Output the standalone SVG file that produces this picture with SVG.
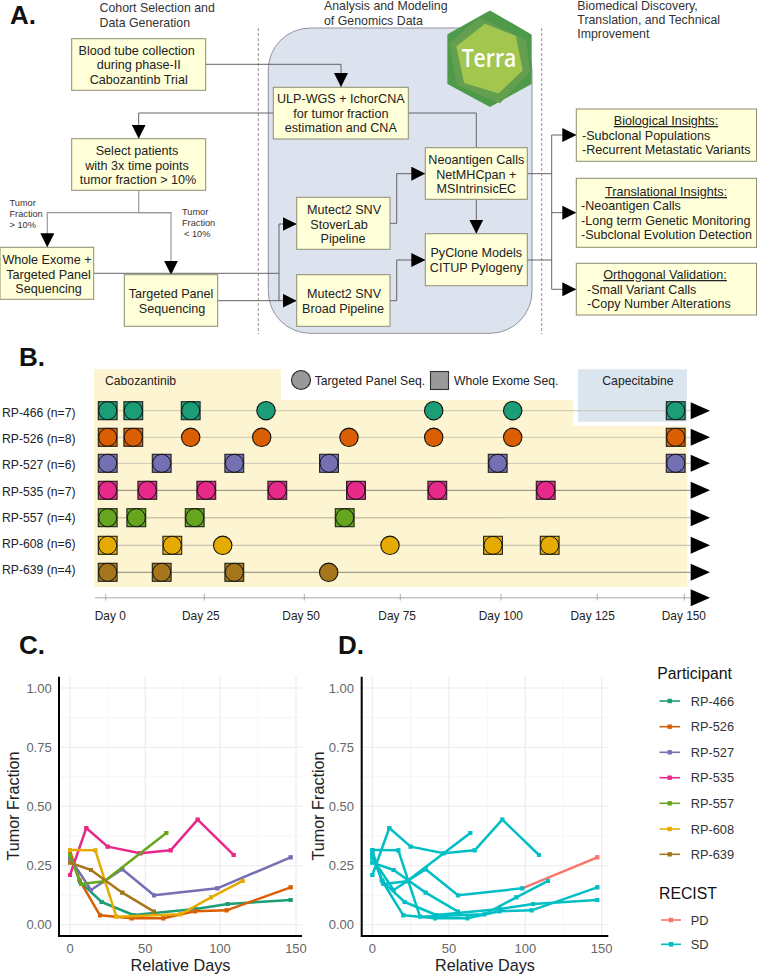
<svg xmlns="http://www.w3.org/2000/svg" width="757" height="975" viewBox="0 0 757 975">
<style>
text{font-family:"Liberation Sans",Arial,sans-serif;fill:#222}
.h{font-size:12.35px;fill:#333}
.big{font-size:26px;font-weight:bold;fill:#111}
.box{fill:#ffffd9;stroke:#8c8c70;stroke-width:1}
.t{font-size:12.6px;text-anchor:middle}
.u{text-decoration:underline}
.l{font-size:12.55px}
.sm{font-size:9.2px;fill:#333}
.c{fill:none;stroke:#555;stroke-width:.9}
.g{fill:none;stroke:#999;stroke-width:1.2}
.rl{fill:none;stroke-width:1}
.b{font-size:12.2px}
.d{font-size:11.9px}
.e{fill:#1b9e77}.f{fill:#d95f02}.p{fill:#7570b3}.m{fill:#e7298a}.n{fill:#66a61e}.y{fill:#e6ab02}.w{fill:#a6761d}
.grid{stroke:#ebebf0;stroke-width:1.1;fill:none}
.minor{stroke:#f2f2f5;stroke-width:.7;fill:none}
.axis{stroke:#000;stroke-width:2;fill:none}
.tick{font-size:13px;fill:#666}
.ax{font-size:16.2px;fill:#222}
.s{fill:none;stroke-width:7.5;stroke-linejoin:round}
.leg{font-size:12.8px;fill:#333}
.legt{font-size:15.8px;fill:#111}
</style>
<defs>
<marker id="arr" markerUnits="userSpaceOnUse" markerWidth="14" markerHeight="14" refX="14" refY="7" orient="auto"><path d="M0 0L14 7L0 14Z" fill="#000"/></marker>
<g id="sq"><rect x="-9.4" y="-9" width="18.8" height="18" stroke="#222" stroke-width="1.1"/><circle r="9" stroke="#111" stroke-width="1"/></g>
<circle id="ci" r="9.2" stroke="#111" stroke-width="1.1"/>
<path id="end" d="M0 -8.5L19.3 0L0 8.5Z" fill="#000"/>
<marker id="q0" markerUnits="userSpaceOnUse" markerWidth="14" markerHeight="14" refX="7" refY="7"><rect x=".5" y=".5" width="13" height="13" fill="#1b9e77"/></marker>
<marker id="q1" markerUnits="userSpaceOnUse" markerWidth="14" markerHeight="14" refX="7" refY="7"><rect x=".5" y=".5" width="13" height="13" fill="#d95f02"/></marker>
<marker id="q2" markerUnits="userSpaceOnUse" markerWidth="14" markerHeight="14" refX="7" refY="7"><rect x=".5" y=".5" width="13" height="13" fill="#7570b3"/></marker>
<marker id="q3" markerUnits="userSpaceOnUse" markerWidth="14" markerHeight="14" refX="7" refY="7"><rect x=".5" y=".5" width="13" height="13" fill="#e7298a"/></marker>
<marker id="q4" markerUnits="userSpaceOnUse" markerWidth="14" markerHeight="14" refX="7" refY="7"><rect x=".5" y=".5" width="13" height="13" fill="#66a61e"/></marker>
<marker id="q5" markerUnits="userSpaceOnUse" markerWidth="14" markerHeight="14" refX="7" refY="7"><rect x=".5" y=".5" width="13" height="13" fill="#e6ab02"/></marker>
<marker id="q6" markerUnits="userSpaceOnUse" markerWidth="14" markerHeight="14" refX="7" refY="7"><rect x=".5" y=".5" width="13" height="13" fill="#a6761d"/></marker>
<marker id="qs" markerUnits="userSpaceOnUse" markerWidth="14" markerHeight="14" refX="7" refY="7"><rect x=".5" y=".5" width="13" height="13" fill="#00bfc4"/></marker>
<marker id="qp" markerUnits="userSpaceOnUse" markerWidth="14" markerHeight="14" refX="7" refY="7"><rect x=".5" y=".5" width="13" height="13" fill="#f8766d"/></marker>
</defs>
<rect width="757" height="975" fill="#fff"/>

<!-- Panel A -->
<text class="big" x="10" y="23.5">A.</text>
<text class="h" x="99.5" y="12">Cohort Selection and</text>
<text class="h" x="99.5" y="27">Data Generation</text>
<text class="h" x="324" y="10">Analysis and Modeling</text>
<text class="h" x="324" y="25">of Genomics Data</text>
<text class="h" x="577.3" y="9.5">Biomedical Discovery,</text>
<text class="h" x="577.3" y="23.5">Translation, and Technical</text>
<text class="h" x="577.3" y="38">Improvement</text>
<rect x="268.3" y="28" width="263.7" height="305.3" rx="42" ry="42" fill="#dde3ee" stroke="#8f939c" stroke-width="1"/>
<path d="M258.3 28V334M541.7 28V334" fill="none" stroke="#777" stroke-width=".8" stroke-dasharray="3 2"/>
<g id="terra" transform="translate(440 5) scale(.3333)">
<path d="M150 20L272 90V235L150 303L25 235V90Z" fill="#4f9a4a" stroke="#4f9a4a" stroke-width="6" stroke-linejoin="round"/>
<path d="M118 38L258 105L270 200L180 295L50 240L28 115Z" fill="#649f50"/>
<path d="M135 60L225 95L245 195L175 262L75 232L52 125Z" fill="#a3c64e" stroke="#a3c64e" stroke-width="6" stroke-linejoin="round"/>
<text x="147" y="186" font-size="78" font-weight="600" text-anchor="middle" style="fill:#fff;font-family:'Open Sans',sans-serif" textLength="164" lengthAdjust="spacingAndGlyphs">Terra</text>
</g>
<g id="connectors">
<path class="c" d="M205.7 64.3H341V87" marker-end="url(#arr)"/>
<path class="c" d="M273.3 113H138.7V138.7" marker-end="url(#arr)"/>
<path class="g" d="M138.7 190.3V212.7"/>
<path class="g" d="M171 212.7H47.3V247.3" marker-end="url(#arr)"/>
<path class="g" d="M138.7 212.7H171V274.7" marker-end="url(#arr)"/>
<path class="c" d="M93.7 273.3H279V224H296.7" marker-end="url(#arr)"/>
<path class="c" d="M217.7 300.7H296.7" marker-end="url(#arr)"/>
<path class="c" d="M279 273.3V300.7"/>
<path class="c" d="M390 223.3H396.7V173.7H425.3" marker-end="url(#arr)"/>
<path class="c" d="M390 300.7H396.7V260H425.3" marker-end="url(#arr)"/>
<path class="c" d="M408.3 113H476.3V147.7"/>
<path class="c" d="M476.3 199.3V233.7" marker-end="url(#arr)"/>
<path class="c" d="M527.3 173.7H551.7"/>
<path class="c" d="M527.3 260H551.7"/>
<path class="c" d="M551.7 135V289.3"/>
<path class="c" d="M551.7 135H576.3" marker-end="url(#arr)"/>
<path class="c" d="M551.7 212.7H576.3" marker-end="url(#arr)"/>
<path class="c" d="M551.7 289.3H576.3" marker-end="url(#arr)"/>
</g>
<g id="blood"><rect class="box" x="71.7" y="38.7" width="134" height="51.6"/><text class="t" x="136.7" y="54.5">Blood tube collection</text><text class="t" x="138.7" y="69">during phase-II</text><text class="t" x="138.7" y="83.5">Cabozantinb Trial</text></g>
<g id="ulp"><rect class="box" x="273.3" y="87.3" width="135" height="51.7"/><text class="t" x="340.8" y="103">ULP-WGS + IchorCNA</text><text class="t" x="340.8" y="118">for tumor fraction</text><text class="t" x="340.8" y="132">estimation and CNA</text></g>
<g id="select"><rect class="box" x="71.7" y="138.7" width="134" height="51.6"/><text class="t" x="137" y="155">Select patients</text><text class="t" x="137" y="169.5">with 3x time points</text><text class="t" x="138" y="183.5">tumor fraction &gt; 10%</text></g>
<g id="wes"><rect class="box" x="0" y="247.3" width="93.7" height="52"/><text class="t" x="47" y="264">Whole Exome +</text><text class="t" x="48.5" y="278.5">Targeted Panel</text><text class="t" x="48.5" y="292.5">Sequencing</text></g>
<g id="tps"><rect class="box" x="124.3" y="274.7" width="93.4" height="51.6"/><text class="t" x="171" y="298">Targeted Panel</text><text class="t" x="172" y="312.5">Sequencing</text></g>
<g id="stover"><rect class="box" x="296.7" y="197.3" width="93.3" height="52"/><text class="t" x="344" y="214">Mutect2 SNV</text><text class="t" x="339" y="228.5">StoverLab</text><text class="t" x="343" y="242.5">Pipeline</text></g>
<g id="broad"><rect class="box" x="296.7" y="274.7" width="93.3" height="51.6"/><text class="t" x="344" y="298">Mutect2 SNV</text><text class="t" x="343" y="312.5">Broad Pipeline</text></g>
<g id="neo"><rect class="box" x="425.3" y="147.7" width="102" height="51.6"/><text class="t" x="476.3" y="164">Neoantigen Calls</text><text class="t" x="476.3" y="178.5">NetMHCpan +</text><text class="t" x="476.3" y="192.5">MSIntrinsicEC</text></g>
<g id="pyclone"><rect class="box" x="425.3" y="233.7" width="102" height="52"/><text class="t" x="476.3" y="257">PyClone Models</text><text class="t" x="476.3" y="272">CITUP Pylogeny</text></g>
<g id="bio"><rect class="box" x="576.3" y="109" width="180.2" height="52.3"/><text class="t u" x="666" y="125">Biological Insights:</text><text class="l" x="582" y="139.5">-Subclonal Populations</text><text class="l" x="582" y="154">-Recurrent Metastatic Variants</text></g>
<g id="trans"><rect class="box" x="576.3" y="178.3" width="180.2" height="69"/><text class="t u" x="666" y="196">Translational Insights:</text><text class="l" x="581" y="210">-Neoantigen Calls</text><text class="l" x="581" y="225">-Long term Genetic Monitoring</text><text class="l" x="581" y="239">-Subclonal Evolution Detection</text></g>
<g id="ortho"><rect class="box" x="576.3" y="263.3" width="180.2" height="51.7"/><text class="t u" x="665" y="279">Orthogonal Validation: </text><text class="l" x="587" y="294">-Small Variant Calls</text><text class="l" x="587" y="308">-Copy Number Alterations</text></g>
<text class="sm" x="9.5" y="206">Tumor</text><text class="sm" x="9.5" y="217">Fraction</text><text class="sm" x="9.5" y="227.5">&gt; 10%</text>
<text class="sm" x="182" y="215">Tumor</text><text class="sm" x="182" y="226">Fraction</text><text class="sm" x="184" y="237">&lt; 10%</text>

<!-- Panel B -->
<text class="big" x="19" y="366">B.</text>
<path d="M94 369.3H281V400H573.3V425.7H687.3V587H94Z" fill="#fdf4d2"/>
<rect x="578" y="369.3" width="109" height="52.4" fill="#dbe5ee"/>
<text class="b" x="105" y="384.7">Cabozantinib</text>
<text class="b" x="602.3" y="384.7">Capecitabine</text>
<circle cx="301" cy="380" r="9.5" fill="#999" stroke="#222" stroke-width="1.1"/>
<text class="b" x="314.7" y="384.7">Targeted Panel Seq.</text>
<rect x="430.5" y="371.5" width="18" height="18" fill="#999" stroke="#333" stroke-width="1.1"/>
<text class="b" x="454" y="384.7">Whole Exome Seq.</text>
<g id="timeline-lines" class="rl">
<path stroke="#c9c6b4" d="M100 410.7H691M100 437.3H691M100 463.3H691"/>
<path stroke="#8a8578" d="M100 490.3H691M100 572.3H691"/>
<path stroke="#cdc5a4" stroke-width="1.5" d="M100 517.7H504"/>
<path stroke="#bdb9a5" d="M504 517.7H691M100 545.3H691"/>
</g>
<g id="rp466" class="e"><text class="b" style="fill:#222" x="2" y="416.7">RP-466 (n=7)</text><use href="#sq" x="107.7" y="410.7"/><use href="#sq" x="133.3" y="410.7"/><use href="#sq" x="190.7" y="410.7"/><use href="#ci" x="266" y="410.7"/><use href="#ci" x="433.7" y="410.7"/><use href="#ci" x="512.7" y="410.7"/><use href="#sq" x="675.7" y="410.7"/><use href="#end" x="690.7" y="410.7"/></g>
<g id="rp526" class="f"><text class="b" style="fill:#222" x="2" y="443.3">RP-526 (n=8)</text><use href="#sq" x="107.7" y="437.3"/><use href="#sq" x="133.3" y="437.3"/><use href="#ci" x="190.7" y="437.3"/><use href="#ci" x="261.7" y="437.3"/><use href="#ci" x="349" y="437.3"/><use href="#ci" x="433.7" y="437.3"/><use href="#ci" x="512.7" y="437.3"/><use href="#sq" x="675.7" y="437.3"/><use href="#end" x="690.7" y="437.3"/></g>
<g id="rp527" class="p"><text class="b" style="fill:#222" x="2" y="469.3">RP-527 (n=6)</text><use href="#sq" x="107.7" y="463.3"/><use href="#sq" x="161.7" y="463.3"/><use href="#sq" x="234.3" y="463.3"/><use href="#sq" x="329" y="463.3"/><use href="#sq" x="497.7" y="463.3"/><use href="#sq" x="675.7" y="463.3"/><use href="#end" x="690.7" y="463.3"/></g>
<g id="rp535" class="m"><text class="b" style="fill:#222" x="2" y="495.7">RP-535 (n=7)</text><use href="#sq" x="107.7" y="490.3"/><use href="#sq" x="147.3" y="490.3"/><use href="#sq" x="206.3" y="490.3"/><use href="#sq" x="277.3" y="490.3"/><use href="#sq" x="356" y="490.3"/><use href="#sq" x="437.3" y="490.3"/><use href="#sq" x="545.7" y="490.3"/><use href="#end" x="690.7" y="490.3"/></g>
<g id="rp557" class="n"><text class="b" style="fill:#222" x="2" y="522">RP-557 (n=4)</text><use href="#sq" x="107.7" y="517.7"/><use href="#sq" x="136.3" y="517.7"/><use href="#sq" x="194.7" y="517.7"/><use href="#sq" x="344.7" y="517.7"/><use href="#end" x="690.7" y="517.7"/></g>
<g id="rp608" class="y"><text class="b" style="fill:#222" x="2" y="548">RP-608 (n=6)</text><use href="#sq" x="107.7" y="545.3"/><use href="#sq" x="172.3" y="545.3"/><use href="#ci" x="222.7" y="545.3"/><use href="#ci" x="390" y="545.3"/><use href="#sq" x="493" y="545.3"/><use href="#sq" x="549.7" y="545.3"/><use href="#end" x="690.7" y="545.3"/></g>
<g id="rp639" class="w"><text class="b" style="fill:#222" x="2" y="574.3">RP-639 (n=4)</text><use href="#sq" x="107.7" y="572.3"/><use href="#sq" x="161.7" y="572.3"/><use href="#sq" x="234.3" y="572.3"/><use href="#ci" x="328.7" y="572.3"/><use href="#end" x="690.7" y="572.3"/></g>
<g id="timeline-axis">
<path d="M95 597.7H691" stroke="#c6c6c6" stroke-width="1.6" fill="none"/>
<path d="M105.7 594V600.5M204.3 594V600.5M304.3 594V600.5M400.3 594V600.5M501 594V600.5M597.3 594V600.5M684.3 594V600.5" stroke="#999" stroke-width=".8" fill="none"/>
<use href="#end" x="690.7" y="597.7"/>
<text class="d" x="94.7" y="620">Day 0</text><text class="d" x="182" y="620">Day 25</text><text class="d" x="282.3" y="620">Day 50</text><text class="d" x="378.3" y="620">Day 75</text><text class="d" x="478.7" y="620">Day 100</text><text class="d" x="570.5" y="620">Day 125</text><text class="d" x="661.7" y="620">Day 150</text>
</g>

<!-- Panel C -->
<text class="big" x="19" y="653.5">C.</text>
<g id="plotC">
<path class="minor" d="M59 717.6H302M59 776.8H302M59 836H302M59 895.2H302M107.7 680V935M182.7 680V935M257.7 680V935"/>
<path class="grid" d="M59 688H302M59 747.3H302M59 806.3H302M59 865.7H302M59 924.7H302M70 676V935M145.3 676V935M220 676V935M296 676V935"/>
<g transform="translate(0 640) scale(.3333)">
<polyline class="s" stroke="#1b9e77" marker-start="url(#q0)" marker-mid="url(#q0)" marker-end="url(#q0)" points="210,645 240,725 305,786 400,825 587,807 683,792 872,780"/>
<polyline class="s" stroke="#d95f02" marker-start="url(#q1)" marker-mid="url(#q1)" marker-end="url(#q1)" points="210,632 238,720 300,826 395,835 490,835 585,814 680,811 872,742"/>
<polyline class="s" stroke="#7570b3" marker-start="url(#q2)" marker-mid="url(#q2)" marker-end="url(#q2)" points="210,655 273,750 367,688 462,766 652,745 872,652"/>
<polyline class="s" stroke="#e7298a" marker-start="url(#q3)" marker-mid="url(#q3)" marker-end="url(#q3)" points="210,705 259,564 323,620 421,640 512,631 593,539 701,645"/>
<polyline class="s" stroke="#66a61e" marker-start="url(#q4)" marker-mid="url(#q4)" marker-end="url(#q4)" points="210,645 243,732 313,724 499,579"/>
<polyline class="s" stroke="#e6ab02" marker-start="url(#q5)" marker-mid="url(#q5)" marker-end="url(#q5)" points="210,630 286,631 349,830 541,823 633,772 728,723"/>
<polyline class="s" stroke="#a6761d" marker-start="url(#q6)" marker-mid="url(#q6)" marker-end="url(#q6)" points="210,668 273,690 367,758 462,815"/>
</g>
<path class="axis" d="M59 676.7V936H302"/>
<g text-anchor="end"><text class="tick" x="51.7" y="692.7">1.00</text><text class="tick" x="51.7" y="752">0.75</text><text class="tick" x="51.7" y="811">0.50</text><text class="tick" x="51.7" y="870.4">0.25</text><text class="tick" x="51.7" y="929.4">0.00</text></g>
<g text-anchor="middle"><text class="tick" x="70" y="952.7">0</text><text class="tick" x="145.3" y="952.7">50</text><text class="tick" x="220" y="952.7">100</text><text class="tick" x="296" y="952.7">150</text></g>
<text class="ax" x="180.5" y="970.5" text-anchor="middle">Relative Days</text>
<text class="ax" transform="translate(19 806) rotate(-90)" text-anchor="middle">Tumor Fraction</text>
</g>

<!-- Panel D -->
<text class="big" x="338" y="653.5">D.</text>
<g id="plotD">
<path class="minor" d="M361.7 717.6H608M361.7 776.8H608M361.7 836H608M361.7 895.2H608M410.7 680V935M487.3 680V935M563.3 680V935"/>
<path class="grid" d="M361.7 688H608M361.7 747.3H608M361.7 806.3H608M361.7 865.7H608M361.7 924.7H608M372.3 676V935M449 676V935M525.3 676V935M601.7 676V935"/>
<g transform="translate(310 640) scale(.3333)">
<polyline class="s" stroke="#f8766d" marker-end="url(#qp)" points="637,745 862,652"/>
<g stroke="#00bfc4">
<polyline class="s" marker-start="url(#qs)" marker-mid="url(#qs)" marker-end="url(#qs)" points="187,645 218,725 284,786 379,825 570,807 669,792 862,780"/>
<polyline class="s" marker-start="url(#qs)" marker-mid="url(#qs)" marker-end="url(#qs)" points="187,632 215,720 280,826 375,835 472,835 568,814 665,811 862,742"/>
<polyline class="s" marker-start="url(#qs)" marker-mid="url(#qs)" marker-end="url(#qs)" points="187,655 251,750 347,688 444,766 637,745"/>
<polyline class="s" marker-start="url(#qs)" marker-mid="url(#qs)" marker-end="url(#qs)" points="187,705 238,564 302,620 401,640 494,631 577,539 687,645"/>
<polyline class="s" marker-start="url(#qs)" marker-mid="url(#qs)" marker-end="url(#qs)" points="187,645 220,732 291,724 481,579"/>
<polyline class="s" marker-start="url(#qs)" marker-mid="url(#qs)" marker-end="url(#qs)" points="187,630 265,631 330,830 523,823 619,772 714,723"/>
<polyline class="s" marker-start="url(#qs)" marker-mid="url(#qs)" marker-end="url(#qs)" points="187,668 251,690 347,758 444,815"/>
</g>
</g>
<path class="axis" d="M361.7 676.7V936H608.3"/>
<g text-anchor="end"><text class="tick" x="354" y="692.7">1.00</text><text class="tick" x="354" y="752">0.75</text><text class="tick" x="354" y="811">0.50</text><text class="tick" x="354" y="870.4">0.25</text><text class="tick" x="354" y="929.4">0.00</text></g>
<g text-anchor="middle"><text class="tick" x="372.3" y="952.7">0</text><text class="tick" x="449" y="952.7">50</text><text class="tick" x="525.3" y="952.7">100</text><text class="tick" x="601.7" y="952.7">150</text></g>
<text class="ax" x="485" y="970.5" text-anchor="middle">Relative Days</text>
<text class="ax" transform="translate(324 806) rotate(-90)" text-anchor="middle">Tumor Fraction</text>
</g>

<!-- Legend -->
<g id="legend" fill="none" stroke-width="1.6">
<text class="legt" x="657.3" y="678.5">Participant</text>
<path stroke="#1b9e77" d="M659.5 701H680"/>
<path stroke="#d95f02" d="M659.5 726.7H680"/>
<path stroke="#7570b3" d="M659.5 752.3H680"/>
<path stroke="#e7298a" d="M659.5 777.7H680"/>
<path stroke="#66a61e" d="M659.5 803.3H680"/>
<path stroke="#e6ab02" d="M659.5 829H680"/>
<path stroke="#a6761d" d="M659.5 854.3H680"/>
<rect class="e" x="667.5" y="698.8" width="4.4" height="4.4"/><rect class="f" x="667.5" y="724.5" width="4.4" height="4.4"/><rect class="p" x="667.5" y="750.1" width="4.4" height="4.4"/><rect class="m" x="667.5" y="775.5" width="4.4" height="4.4"/><rect class="n" x="667.5" y="801.1" width="4.4" height="4.4"/><rect class="y" x="667.5" y="826.8" width="4.4" height="4.4"/><rect class="w" x="667.5" y="852.1" width="4.4" height="4.4"/>
<text class="leg" x="690.7" y="705.5">RP-466</text><text class="leg" x="690.7" y="731">RP-526</text><text class="leg" x="690.7" y="756.8">RP-527</text><text class="leg" x="690.7" y="782.2">RP-535</text><text class="leg" x="690.7" y="807.8">RP-557</text><text class="leg" x="690.7" y="833.5">RP-608</text><text class="leg" x="690.7" y="858.8">RP-639</text>
<text class="legt" x="659" y="898.5">RECIST</text>
<path stroke="#f8766d" d="M661 920H681"/><rect x="668.7" y="917.7" width="4.6" height="4.6" fill="#f8766d"/>
<path stroke="#00bfc4" d="M661 944.3H681"/><rect x="668.7" y="942" width="4.6" height="4.6" fill="#00bfc4"/>
<text class="leg" x="690.7" y="924.5">PD</text><text class="leg" x="690.7" y="948.8">SD</text>
</g>
</svg>
